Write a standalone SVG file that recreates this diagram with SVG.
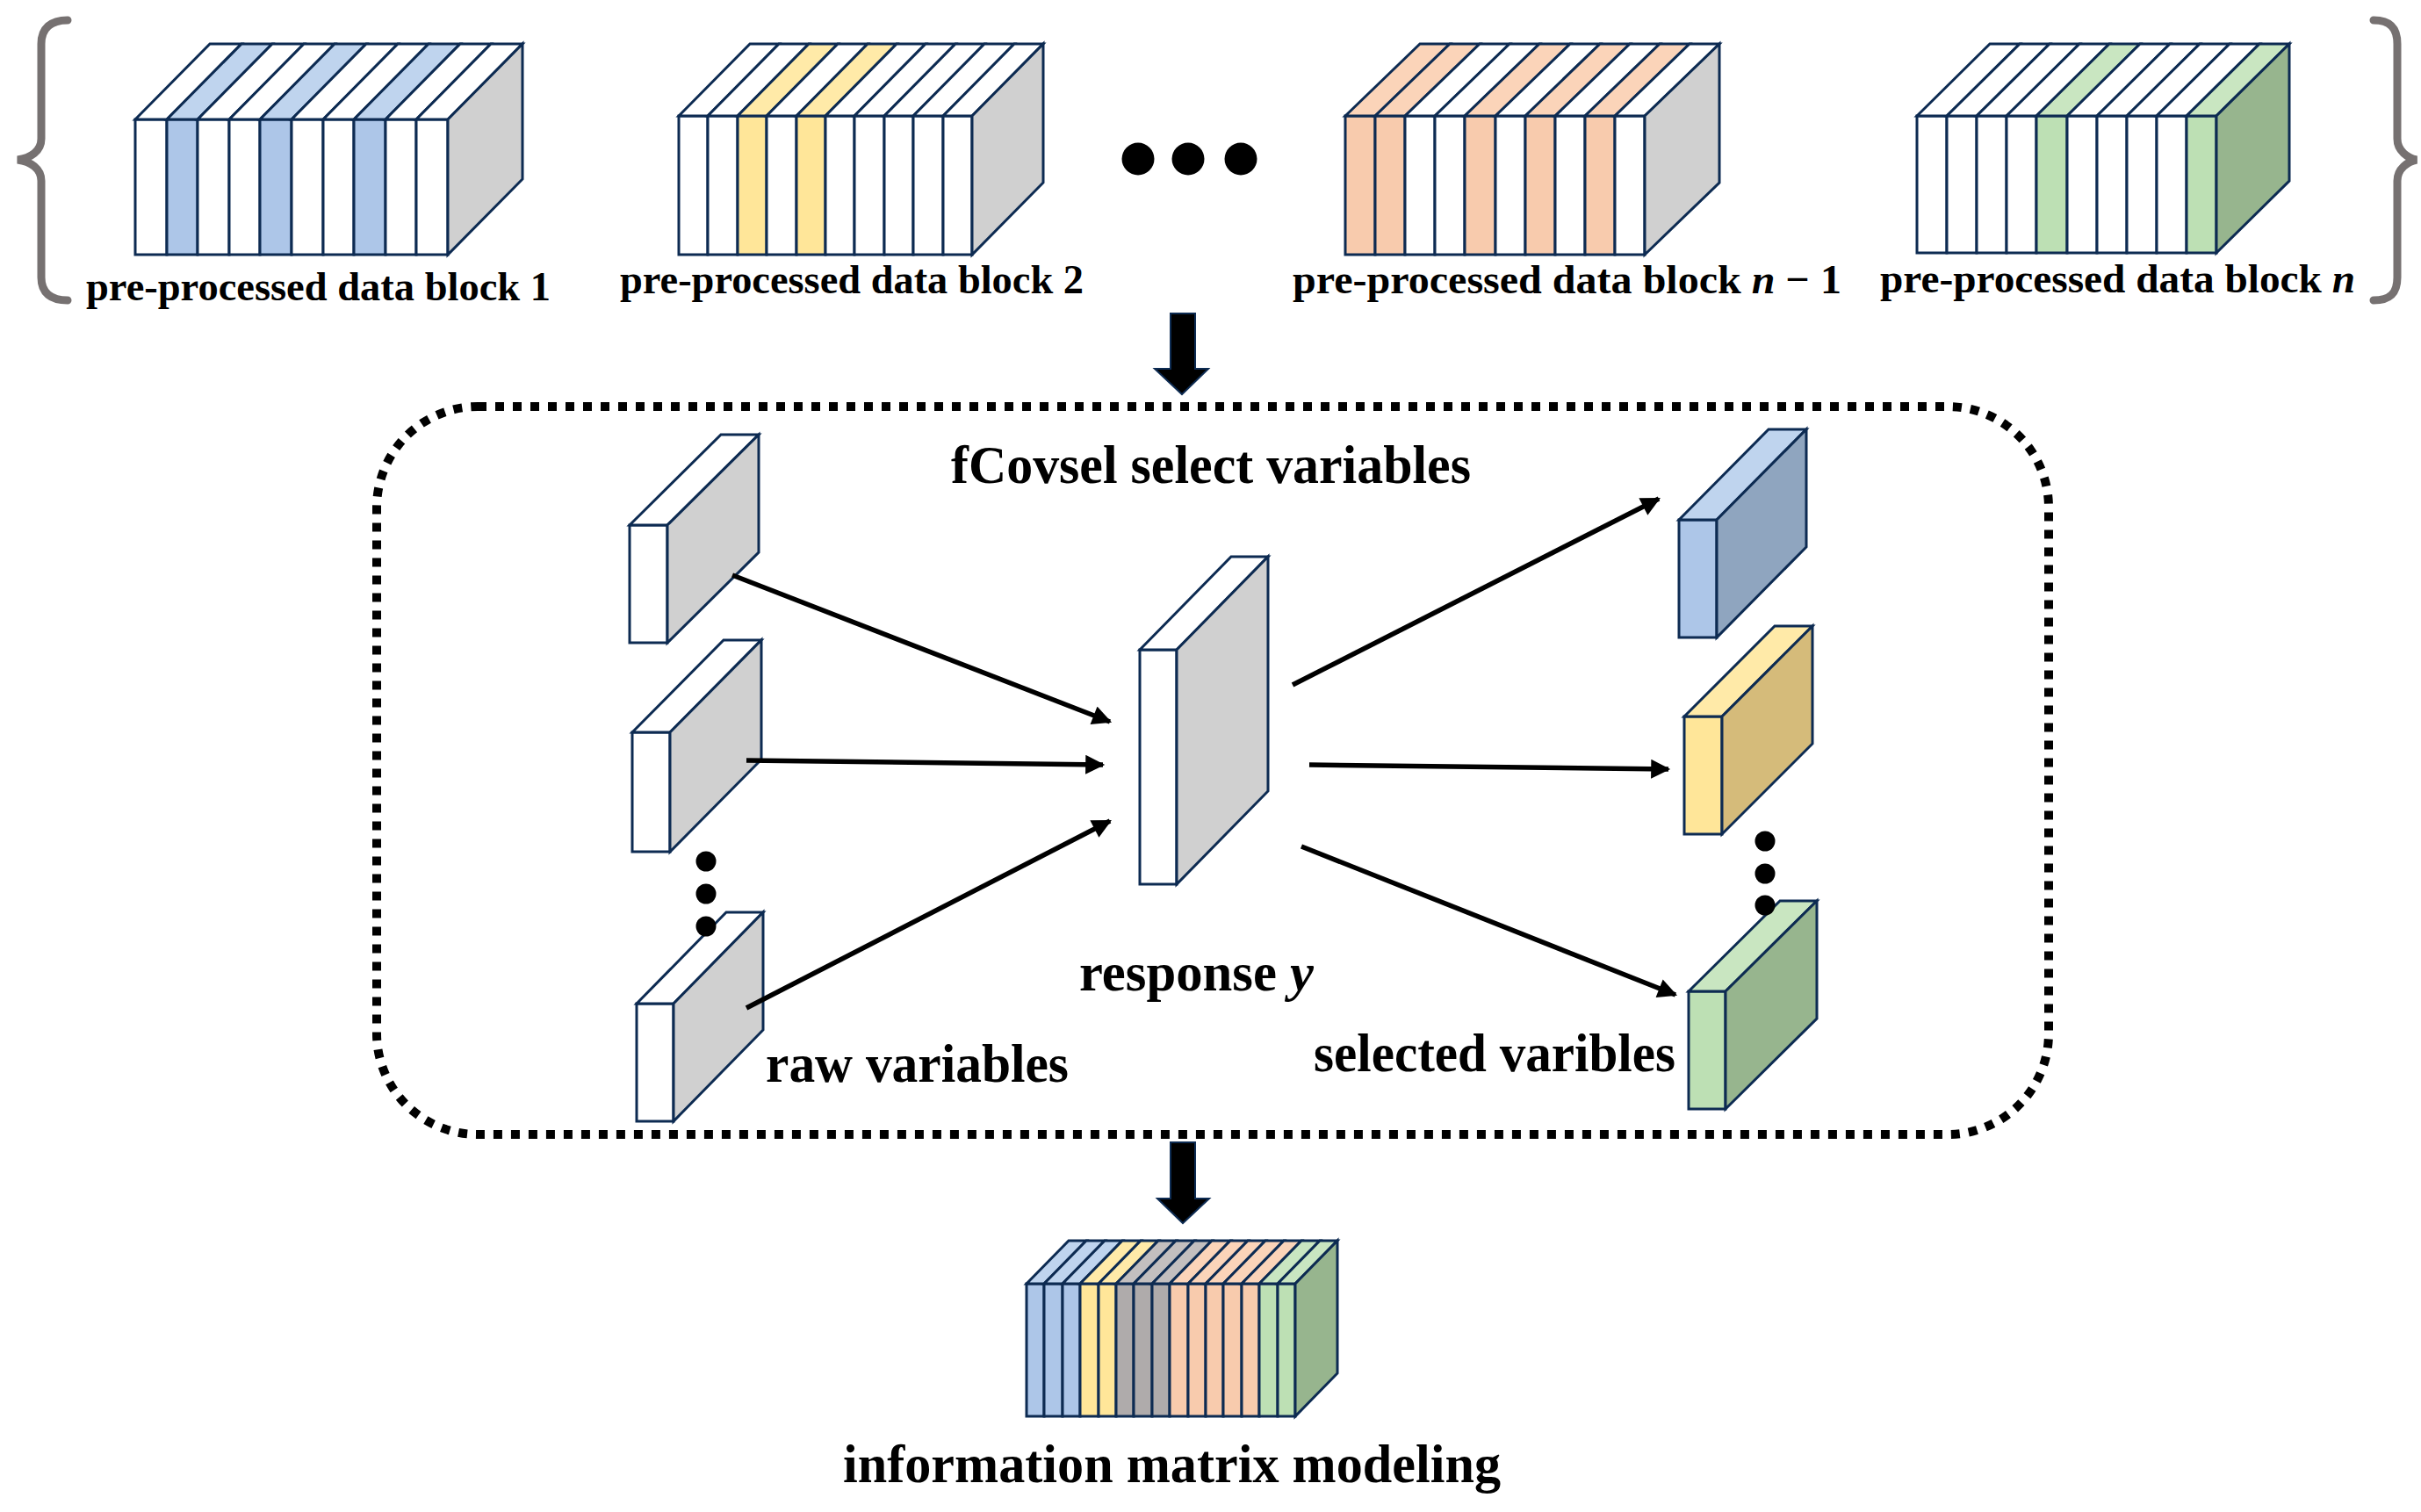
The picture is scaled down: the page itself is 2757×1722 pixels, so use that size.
<svg xmlns="http://www.w3.org/2000/svg" width="2757" height="1722" viewBox="0 0 2757 1722">
<style>
.s{stroke:#0d2b52;stroke-width:3;stroke-linejoin:miter}
.w{fill:#ffffff}
.g{fill:#d0d0d0}
.b{fill:#adc6e8}.bt{fill:#bfd4ee}.br{fill:#8fa5bf}
.y{fill:#ffe699}.yt{fill:#ffeaa8}.yr{fill:#d5bb7a}
.o{fill:#f8cbad}.ot{fill:#fbd4b9}
.gr{fill:#bde0b4}.grt{fill:#c9e6c1}.grr{fill:#97b58e}
.gy{fill:#afabab}.gyt{fill:#c3bfbf}
.lbl{font-family:"Liberation Serif","Times New Roman",serif;font-weight:bold;fill:#000}
.top{font-size:47px}
.mid{font-size:61px}
.brace{fill:none;stroke:#767171;stroke-width:9;stroke-linecap:round}
.conn{stroke:#000;stroke-width:5.5;fill:none}
.big{fill:#000;stroke:#0d2b52;stroke-width:2}
</style>
<defs>
<marker id="ah" viewBox="0 0 10 10" refX="9" refY="5" markerWidth="4.2" markerHeight="4" orient="auto" markerUnits="strokeWidth">
<path d="M0,0 L10,5 L0,10 Z" fill="#000"/>
</marker>
</defs>
<rect width="2757" height="1722" fill="#fff"/>

<g id="braces">
<path class="brace" d="M77,23 C58,23 47,32 47,50 L47,158 C47,172 35,180 20,182 C35,184 47,192 47,206 L47,316 C47,334 58,342 77,342"/>
<path class="brace" d="M2703,23 C2722,23 2730,32 2730,50 L2730,158 C2730,172 2742,180 2752,182 C2742,184 2730,192 2730,206 L2730,316 C2730,334 2722,342 2703,342"/>
</g>

<g id="block1">
<g class="s">
<rect class="w" x="154" y="136" width="36" height="154"/>
<rect class="b" x="190" y="136" width="35" height="154"/>
<rect class="w" x="225" y="136" width="36" height="154"/>
<rect class="w" x="261" y="136" width="35" height="154"/>
<rect class="b" x="296" y="136" width="36" height="154"/>
<rect class="w" x="332" y="136" width="36" height="154"/>
<rect class="w" x="368" y="136" width="35" height="154"/>
<rect class="b" x="403" y="136" width="36" height="154"/>
<rect class="w" x="439" y="136" width="35" height="154"/>
<rect class="w" x="474" y="136" width="36" height="154"/>
<polygon class="w" points="154,136 239,50 275,50 190,136"/>
<polygon class="bt" points="190,136 275,50 310,50 225,136"/>
<polygon class="w" points="225,136 310,50 346,50 261,136"/>
<polygon class="w" points="261,136 346,50 381,50 296,136"/>
<polygon class="bt" points="296,136 381,50 417,50 332,136"/>
<polygon class="w" points="332,136 417,50 453,50 368,136"/>
<polygon class="w" points="368,136 453,50 488,50 403,136"/>
<polygon class="bt" points="403,136 488,50 524,50 439,136"/>
<polygon class="w" points="439,136 524,50 559,50 474,136"/>
<polygon class="w" points="474,136 559,50 595,50 510,136"/>
<polygon class="g" points="510,136 595,50 595,204 510,290"/>
</g>
<text class="lbl top" x="98" y="342" textLength="529" lengthAdjust="spacingAndGlyphs">pre-processed data block 1</text>
</g>

<g id="block2">
<g class="s">
<rect class="w" x="773" y="132" width="33" height="158"/>
<rect class="w" x="806" y="132" width="34" height="158"/>
<rect class="y" x="840" y="132" width="33" height="158"/>
<rect class="w" x="873" y="132" width="34" height="158"/>
<rect class="y" x="907" y="132" width="33" height="158"/>
<rect class="w" x="940" y="132" width="33" height="158"/>
<rect class="w" x="973" y="132" width="34" height="158"/>
<rect class="w" x="1007" y="132" width="33" height="158"/>
<rect class="w" x="1040" y="132" width="34" height="158"/>
<rect class="w" x="1074" y="132" width="33" height="158"/>
<polygon class="w" points="773,132 854,50 887,50 806,132"/>
<polygon class="w" points="806,132 887,50 921,50 840,132"/>
<polygon class="yt" points="840,132 921,50 954,50 873,132"/>
<polygon class="w" points="873,132 954,50 988,50 907,132"/>
<polygon class="yt" points="907,132 988,50 1021,50 940,132"/>
<polygon class="w" points="940,132 1021,50 1054,50 973,132"/>
<polygon class="w" points="973,132 1054,50 1088,50 1007,132"/>
<polygon class="w" points="1007,132 1088,50 1121,50 1040,132"/>
<polygon class="w" points="1040,132 1121,50 1155,50 1074,132"/>
<polygon class="w" points="1074,132 1155,50 1188,50 1107,132"/>
<polygon class="g" points="1107,132 1188,50 1188,208 1107,290"/>
</g>
<text class="lbl top" x="706" y="334" textLength="528" lengthAdjust="spacingAndGlyphs">pre-processed data block 2</text>
</g>

<g id="dots-top">
<circle cx="1296" cy="181" r="18.5"/>
<circle cx="1353" cy="181" r="18.5"/>
<circle cx="1413" cy="181" r="18.5"/>
</g>

<g id="blockn1">
<g class="s">
<rect class="o" x="1532" y="132" width="34" height="158"/>
<rect class="o" x="1566" y="132" width="34" height="158"/>
<rect class="w" x="1600" y="132" width="34" height="158"/>
<rect class="w" x="1634" y="132" width="34" height="158"/>
<rect class="o" x="1668" y="132" width="35" height="158"/>
<rect class="w" x="1703" y="132" width="34" height="158"/>
<rect class="o" x="1737" y="132" width="34" height="158"/>
<rect class="w" x="1771" y="132" width="34" height="158"/>
<rect class="o" x="1805" y="132" width="34" height="158"/>
<rect class="w" x="1839" y="132" width="34" height="158"/>
<polygon class="ot" points="1532,132 1617,50 1651,50 1566,132"/>
<polygon class="ot" points="1566,132 1651,50 1685,50 1600,132"/>
<polygon class="w" points="1600,132 1685,50 1719,50 1634,132"/>
<polygon class="w" points="1634,132 1719,50 1753,50 1668,132"/>
<polygon class="ot" points="1668,132 1753,50 1788,50 1703,132"/>
<polygon class="w" points="1703,132 1788,50 1822,50 1737,132"/>
<polygon class="ot" points="1737,132 1822,50 1856,50 1771,132"/>
<polygon class="w" points="1771,132 1856,50 1890,50 1805,132"/>
<polygon class="ot" points="1805,132 1890,50 1924,50 1839,132"/>
<polygon class="w" points="1839,132 1924,50 1958,50 1873,132"/>
<polygon class="g" points="1873,132 1958,50 1958,208 1873,290"/>
</g>
<text class="lbl top" x="1472" y="334" textLength="625" lengthAdjust="spacingAndGlyphs">pre-processed data block <tspan font-style="italic">n</tspan> − 1</text>
</g>

<g id="blockn">
<g class="s">
<rect class="w" x="2183" y="132" width="34" height="156"/>
<rect class="w" x="2217" y="132" width="34" height="156"/>
<rect class="w" x="2251" y="132" width="34" height="156"/>
<rect class="w" x="2285" y="132" width="34" height="156"/>
<rect class="gr" x="2319" y="132" width="35" height="156"/>
<rect class="w" x="2354" y="132" width="34" height="156"/>
<rect class="w" x="2388" y="132" width="34" height="156"/>
<rect class="w" x="2422" y="132" width="34" height="156"/>
<rect class="w" x="2456" y="132" width="34" height="156"/>
<rect class="gr" x="2490" y="132" width="34" height="156"/>
<polygon class="w" points="2183,132 2266,50 2300,50 2217,132"/>
<polygon class="w" points="2217,132 2300,50 2334,50 2251,132"/>
<polygon class="w" points="2251,132 2334,50 2368,50 2285,132"/>
<polygon class="w" points="2285,132 2368,50 2402,50 2319,132"/>
<polygon class="grt" points="2319,132 2402,50 2437,50 2354,132"/>
<polygon class="w" points="2354,132 2437,50 2471,50 2388,132"/>
<polygon class="w" points="2388,132 2471,50 2505,50 2422,132"/>
<polygon class="w" points="2422,132 2505,50 2539,50 2456,132"/>
<polygon class="w" points="2456,132 2539,50 2573,50 2490,132"/>
<polygon class="grt" points="2490,132 2573,50 2607,50 2524,132"/>
<polygon class="grr" points="2524,132 2607,50 2607,206 2524,288"/>
</g>
<text class="lbl top" x="2141" y="333" textLength="541" lengthAdjust="spacingAndGlyphs">pre-processed data block <tspan font-style="italic">n</tspan></text>
</g>

<g id="arrow-top">
<polygon class="big" points="1333,357 1361,357 1361,420 1376,420 1346,449 1315,420 1333,420"/>
</g>

<g id="fcovsel-box">
<rect x="429" y="463" width="1904" height="829" rx="115" ry="115" fill="none" stroke="#000" stroke-width="10" stroke-dasharray="10 10"/>
<text class="lbl mid" x="1083" y="550" textLength="592" lengthAdjust="spacingAndGlyphs">fCovsel select variables</text>
</g>

<g id="raw1" class="s">
<rect class="w" x="717" y="598" width="43" height="134"/>
<polygon class="w" points="717,598 821,495 864,495 760,598"/>
<polygon class="g" points="760,598 864,495 864,629 760,732"/>
</g>
<g id="raw2" class="s">
<rect class="w" x="720" y="834" width="43" height="136"/>
<polygon class="w" points="720,834 824,729 867,729 763,834"/>
<polygon class="g" points="763,834 867,729 867,865 763,970"/>
</g>
<g id="raw3">
<g class="s">
<rect class="w" x="725" y="1143" width="42" height="134"/>
<polygon class="w" points="725,1143 827,1039 869,1039 767,1143"/>
<polygon class="g" points="767,1143 869,1039 869,1173 767,1277"/>
</g>
<text class="lbl mid" x="872" y="1232" textLength="345" lengthAdjust="spacingAndGlyphs">raw variables</text>
</g>
<g id="raw-dots">
<circle cx="804" cy="981" r="11.5"/>
<circle cx="804" cy="1018" r="11.5"/>
<circle cx="804" cy="1055" r="11.5"/>
</g>

<g id="response">
<g class="s">
<rect class="w" x="1298" y="740" width="42" height="267"/>
<polygon class="w" points="1298,740 1402,634 1444,634 1340,740"/>
<polygon class="g" points="1340,740 1444,634 1444,901 1340,1007"/>
</g>
<text class="lbl mid" x="1229" y="1128" textLength="267" lengthAdjust="spacingAndGlyphs">response <tspan font-style="italic">y</tspan></text>
</g>

<g id="sel-blue" class="s">
<rect class="b" x="1912" y="592" width="43" height="134"/>
<polygon class="bt" points="1912,592 2014,489 2057,489 1955,592"/>
<polygon class="br" points="1955,592 2057,489 2057,623 1955,726"/>
</g>
<g id="sel-yellow" class="s">
<rect class="y" x="1918" y="816" width="43" height="134"/>
<polygon class="yt" points="1918,816 2021,713 2064,713 1961,816"/>
<polygon class="yr" points="1961,816 2064,713 2064,847 1961,950"/>
</g>
<g id="sel-green">
<g class="s">
<rect class="gr" x="1923" y="1129" width="42" height="134"/>
<polygon class="grt" points="1923,1129 2027,1026 2069,1026 1965,1129"/>
<polygon class="grr" points="1965,1129 2069,1026 2069,1160 1965,1263"/>
</g>
<text class="lbl mid" x="1496" y="1220" textLength="412" lengthAdjust="spacingAndGlyphs">selected varibles</text>
</g>
<g id="sel-dots">
<circle cx="2010" cy="958" r="11.5"/>
<circle cx="2010" cy="995" r="11.5"/>
<circle cx="2010" cy="1031" r="11.5"/>
</g>

<g id="connectors">
<line class="conn" x1="834" y1="655" x2="1264" y2="822" marker-end="url(#ah)"/>
<line class="conn" x1="850" y1="866" x2="1256" y2="871" marker-end="url(#ah)"/>
<line class="conn" x1="850" y1="1148" x2="1264" y2="935" marker-end="url(#ah)"/>
<line class="conn" x1="1472" y1="780" x2="1889" y2="568" marker-end="url(#ah)"/>
<line class="conn" x1="1491" y1="871" x2="1900" y2="876" marker-end="url(#ah)"/>
<line class="conn" x1="1482" y1="964" x2="1908" y2="1133" marker-end="url(#ah)"/>
</g>

<g id="arrow-bottom">
<polygon class="big" points="1333,1301 1361,1301 1361,1365 1377,1365 1347,1393 1318,1365 1333,1365"/>
</g>

<g id="info-matrix">
<g class="s">
<rect class="b" x="1169" y="1462" width="20" height="151"/>
<rect class="b" x="1189" y="1462" width="21" height="151"/>
<rect class="b" x="1210" y="1462" width="20" height="151"/>
<rect class="y" x="1230" y="1462" width="21" height="151"/>
<rect class="y" x="1251" y="1462" width="20" height="151"/>
<rect class="gy" x="1271" y="1462" width="20" height="151"/>
<rect class="gy" x="1291" y="1462" width="21" height="151"/>
<rect class="gy" x="1312" y="1462" width="20" height="151"/>
<rect class="o" x="1332" y="1462" width="21" height="151"/>
<rect class="o" x="1353" y="1462" width="20" height="151"/>
<rect class="o" x="1373" y="1462" width="20" height="151"/>
<rect class="o" x="1393" y="1462" width="21" height="151"/>
<rect class="o" x="1414" y="1462" width="20" height="151"/>
<rect class="gr" x="1434" y="1462" width="21" height="151"/>
<rect class="gr" x="1455" y="1462" width="20" height="151"/>
<polygon class="bt" points="1169,1462 1217,1413 1237,1413 1189,1462"/>
<polygon class="bt" points="1189,1462 1237,1413 1258,1413 1210,1462"/>
<polygon class="bt" points="1210,1462 1258,1413 1278,1413 1230,1462"/>
<polygon class="yt" points="1230,1462 1278,1413 1299,1413 1251,1462"/>
<polygon class="yt" points="1251,1462 1299,1413 1319,1413 1271,1462"/>
<polygon class="gyt" points="1271,1462 1319,1413 1339,1413 1291,1462"/>
<polygon class="gyt" points="1291,1462 1339,1413 1360,1413 1312,1462"/>
<polygon class="gyt" points="1312,1462 1360,1413 1380,1413 1332,1462"/>
<polygon class="ot" points="1332,1462 1380,1413 1401,1413 1353,1462"/>
<polygon class="ot" points="1353,1462 1401,1413 1421,1413 1373,1462"/>
<polygon class="ot" points="1373,1462 1421,1413 1441,1413 1393,1462"/>
<polygon class="ot" points="1393,1462 1441,1413 1462,1413 1414,1462"/>
<polygon class="ot" points="1414,1462 1462,1413 1482,1413 1434,1462"/>
<polygon class="grt" points="1434,1462 1482,1413 1503,1413 1455,1462"/>
<polygon class="grt" points="1455,1462 1503,1413 1523,1413 1475,1462"/>
<polygon class="grr" points="1475,1462 1523,1413 1523,1564 1475,1613"/>
</g>
<text class="lbl mid" x="960" y="1688" textLength="749" lengthAdjust="spacingAndGlyphs">information matrix modeling</text>
</g>
</svg>
